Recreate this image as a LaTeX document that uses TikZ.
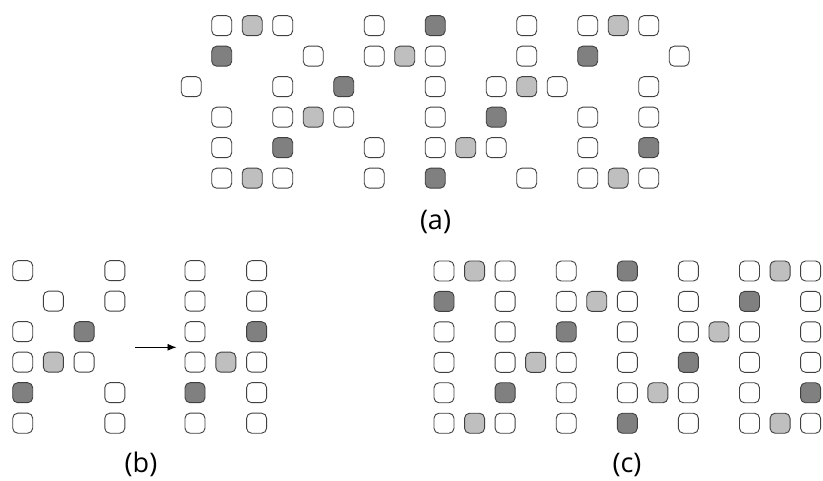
\documentclass[tikz,border=0pt]{standalone}
\usepackage{fontspec}
\setmainfont{Open Sans}
\usetikzlibrary{arrows.meta}
\begin{document}
\begin{tikzpicture}[x=1pt,y=-1pt,
  cell/.style={draw=black!75, line width=0.9pt, rounded corners=5pt, minimum size=20pt, inner sep=0pt, anchor=center},
  W/.style={cell, fill=white},
  L/.style={cell, fill=black!25},
  D/.style={cell, fill=black!50},
  lab/.style={font=\fontsize{27}{32}\selectfont, inner sep=0pt},
  arr/.style={-{Latex[length=9pt,width=7pt]}, line width=0.9pt}]
\useasboundingbox (0,0) rectangle (823,481);
% part (a)
\foreach \r/\c/\t in {
  0/0/W,0/1/L,0/2/W,0/5/W,0/7/D,0/10/W,0/12/W,0/13/L,0/14/W,
  1/0/D,1/3/W,1/5/W,1/6/L,1/7/W,1/10/W,1/12/D,1/15/W,
  2/-1/W,2/2/W,2/4/D,2/7/W,2/9/W,2/10/L,2/11/W,2/14/W,
  3/0/W,3/2/W,3/3/L,3/4/W,3/7/W,3/9/D,3/12/W,3/14/W,
  4/0/W,4/2/D,4/5/W,4/7/W,4/8/L,4/9/W,4/12/W,4/14/D,
  5/0/W,5/1/L,5/2/W,5/5/W,5/7/D,5/10/W,5/12/W,5/13/L,5/14/W}
  \node[\t] (a-\r-\c) at ({221.7+30.5*\c},{25.7+30.5*\r}) {};
\node[lab] (la) at (435.5,222.5) {(a)};
% part (b), left
\foreach \r/\c/\t in {
  0/0/W,0/3/W,
  1/1/W,1/3/W,
  2/0/W,2/2/D,
  3/0/W,3/1/L,3/2/W,
  4/0/D,4/3/W,
  5/0/W,5/3/W}
  \node[\t] (bl-\r-\c) at ({22.7+30.7*\c},{270.7+30.5*\r}) {};
% part (b), right
\foreach \r/\c/\t in {
  0/0/W,0/2/W,
  1/0/W,1/2/W,
  2/0/W,2/2/D,
  3/0/W,3/1/L,3/2/W,
  4/0/D,4/2/W,
  5/0/W,5/2/W}
  \node[\t] (br-\r-\c) at ({195+30.8*\c},{270.7+30.5*\r}) {};
\coordinate (arrs) at (135,347.3);
\coordinate (arre) at (176.5,347.3);
\draw[arr] (arrs) -- (arre);
\node[lab] (lb) at (141,464.5) {(b)};
% part (c)
\foreach \r/\c/\t in {
  0/0/W,0/1/L,0/2/W,0/4/W,0/6/D,0/8/W,0/10/W,0/11/L,0/12/W,
  1/0/D,1/2/W,1/4/W,1/5/L,1/6/W,1/8/W,1/10/D,1/12/W,
  2/0/W,2/2/W,2/4/D,2/6/W,2/8/W,2/9/L,2/10/W,2/12/W,
  3/0/W,3/2/W,3/3/L,3/4/W,3/6/W,3/8/D,3/10/W,3/12/W,
  4/0/W,4/2/D,4/4/W,4/6/W,4/7/L,4/8/W,4/10/W,4/12/D,
  5/0/W,5/1/L,5/2/W,5/4/W,5/6/D,5/8/W,5/10/W,5/11/L,5/12/W}
  \node[\t] (c-\r-\c) at ({444+30.55*\c},{271+30.45*\r}) {};
\node[lab] (lc) at (627,464.5) {(c)};
\end{tikzpicture}
\end{document}
